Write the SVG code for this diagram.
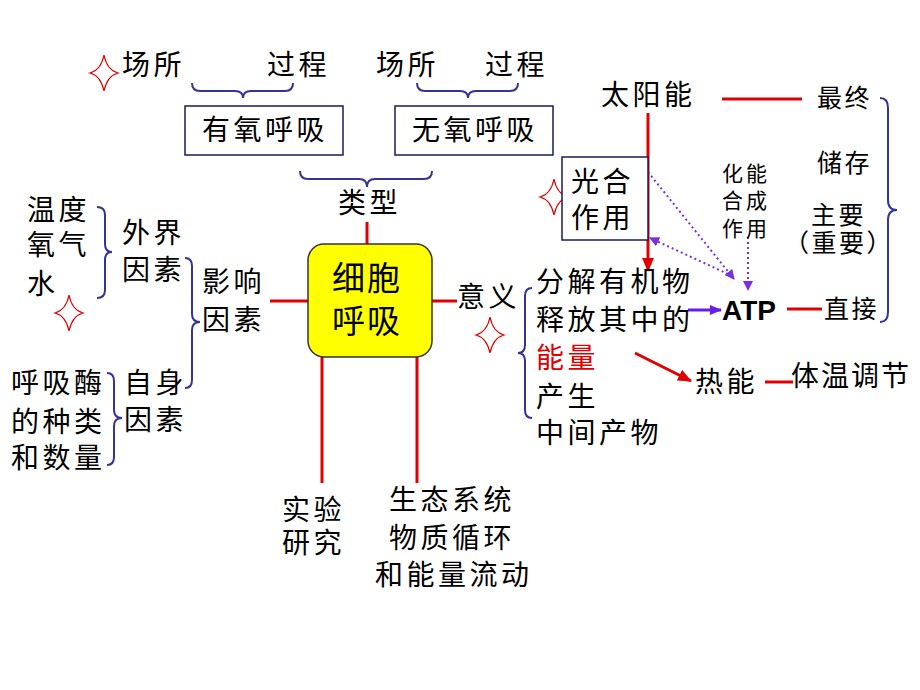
<svg xmlns="http://www.w3.org/2000/svg" width="920" height="690" viewBox="0 0 920 690">
<style>
  text { font-family: "Noto Sans CJK SC", "Noto Sans", sans-serif; fill: #000; }
  .t { font-size: 28px; letter-spacing: 3.5px; }
  .s { font-size: 25px; letter-spacing: 2.5px; }
  .xs { font-size: 21px; letter-spacing: 3px; }
  .big { font-size: 33px; letter-spacing: 2px; }
  .red { fill: #E00000; }
  .atp { font-family: "Liberation Sans", Arial, sans-serif; font-weight: bold; font-size: 28px; }
  .box { fill: #fff; stroke: #1a1a5e; stroke-width: 1.5; }
  .core { fill: #FFFF00; stroke: #333; stroke-width: 1.5; }
  .brace { fill: none; stroke: #333399; stroke-width: 2; }
  .rl { stroke: #E00000; stroke-width: 3; fill: none; }
  .pd { stroke: #7B2FE0; stroke-width: 2; stroke-dasharray: 2 3; fill: none; }
  .ps { stroke: #6A1BE6; stroke-width: 3; fill: none; }
  .star { fill: #fff; stroke: #E00000; stroke-width: 1.2; }
</style>
<defs>
  <path id="star" d="M0,-18 Q3,-3 14,0 Q3,3 0,18 Q-3,3 -14,0 Q-3,-3 0,-18Z"/>
  <marker id="ar" markerUnits="userSpaceOnUse" markerWidth="14" markerHeight="12" refX="13" refY="6" orient="auto">
    <path d="M0,0 L14,6 L0,12 z" fill="#E00000"/>
  </marker>
  <marker id="ap" markerUnits="userSpaceOnUse" markerWidth="12" markerHeight="10" refX="11" refY="5" orient="auto">
    <path d="M0,0 L12,5 L0,10 z" fill="#6A1BE6"/>
  </marker>
  <marker id="apd" markerUnits="userSpaceOnUse" markerWidth="10" markerHeight="10" refX="9" refY="5" orient="auto">
    <path d="M0,0 L10,5 L0,10 z" fill="#7B2FE0"/>
  </marker>
</defs>
<rect width="920" height="690" fill="#fff"/>

<g id="connectors">
  <line class="rl" x1="367" y1="222" x2="367" y2="244"/>
  <line class="rl" x1="270" y1="301" x2="308" y2="301"/>
  <line class="rl" x1="432" y1="301" x2="457" y2="301"/>
  <line class="rl" x1="322" y1="357" x2="322" y2="483"/>
  <line class="rl" x1="417" y1="357" x2="417" y2="483"/>
  <line class="rl" x1="722" y1="99" x2="802" y2="99"/>
  <line class="rl" x1="648" y1="113" x2="648" y2="271" marker-end="url(#ar)"/>
  <line class="rl" x1="635" y1="353" x2="691" y2="381" marker-end="url(#ar)"/>
  <line class="rl" x1="787" y1="309" x2="822" y2="309"/>
  <line class="rl" x1="765" y1="382" x2="793" y2="382"/>
  <line class="ps" x1="688" y1="310" x2="721" y2="310" marker-end="url(#ap)"/>
  <line class="pd" x1="648" y1="172" x2="734" y2="279" marker-end="url(#apd)"/>
  <line class="pd" x1="728" y1="274" x2="650" y2="238" marker-end="url(#apd)"/>
  <line class="pd" x1="748" y1="237" x2="748" y2="290" marker-end="url(#apd)"/>
</g>

<g id="braces">
  <path class="brace" d="M192,83 Q192,91 200,91 L235,91 Q243,91 243,98 Q243,91 251,91 L285,91 Q293,91 293,83"/>
  <path class="brace" d="M417,83 Q417,91 425,91 L460,91 Q468,91 468,98 Q468,91 476,91 L510,91 Q518,91 518,83"/>
  <path class="brace" d="M300,171 Q300,179 308,179 L359,179 Q367,179 367,187 Q367,179 375,179 L424,179 Q432,179 432,171"/>
  <path class="brace" d="M97,207 Q105,207 105,215 L105,244 Q105,252 112,252 Q105,252 105,260 L105,290 Q105,298 97,298"/>
  <path class="brace" d="M185,258 Q192,258 192,266 L192,314 Q192,322 200,322 Q192,322 192,330 L192,380 Q192,388 185,388"/>
  <path class="brace" d="M107,373 Q114,373 114,381 L114,410 Q114,418 122,418 Q114,418 114,426 L114,457 Q114,465 107,465"/>
  <path class="brace" d="M532,288 Q525,288 525,296 L525,345 Q525,353 518,353 Q525,353 525,361 L525,410 Q525,418 532,418"/>
  <path class="brace" d="M880,98 Q888,98 888,108 L888,200 Q888,210 897,210 Q888,210 888,220 L888,312 Q888,322 880,322"/>
</g>

<g id="stars">
  <use href="#star" class="star" x="104" y="73"/>
  <use href="#star" class="star" x="69" y="313"/>
  <use href="#star" class="star" x="554" y="197"/>
  <use href="#star" class="star" x="490" y="335"/>
</g>

<g id="n-site1"><text class="t" x="122" y="75">场所</text></g>
<g id="n-proc1"><text class="t" x="267" y="75">过程</text></g>
<g id="n-site2"><text class="t" x="376" y="75">场所</text></g>
<g id="n-proc2"><text class="t" x="485" y="75">过程</text></g>

<g id="n-aerobic">
  <rect class="box" x="185" y="106" width="158" height="49"/>
  <text class="t" x="202" y="140">有氧呼吸</text>
</g>
<g id="n-anaerobic">
  <rect class="box" x="395" y="106" width="158" height="49"/>
  <text class="t" x="412" y="140">无氧呼吸</text>
</g>
<g id="n-type"><text class="t" x="338" y="213">类型</text></g>

<g id="n-core">
  <rect class="core" x="308" y="244" width="124" height="113" rx="16" ry="16"/>
  <text class="big" x="332" y="290">细胞</text>
  <text class="big" x="332" y="333">呼吸</text>
</g>

<g id="n-ext-list">
  <text class="t" x="27" y="220">温度</text>
  <text class="t" x="27" y="255">氧气</text>
  <text class="t" x="27" y="294">水</text>
</g>
<g id="n-ext"><text class="t" x="122" y="243">外界</text><text class="t" x="122" y="280">因素</text></g>
<g id="n-influence"><text class="t" x="202" y="292">影响</text><text class="t" x="202" y="330">因素</text></g>
<g id="n-enzyme">
  <text class="t" x="11" y="393">呼吸酶</text>
  <text class="t" x="11" y="432">的种类</text>
  <text class="t" x="11" y="468">和数量</text>
</g>
<g id="n-self"><text class="t" x="124" y="393">自身</text><text class="t" x="124" y="430">因素</text></g>

<g id="n-exp"><text class="t" x="282" y="520">实验</text><text class="t" x="282" y="553">研究</text></g>
<g id="n-eco">
  <text class="t" x="389" y="510">生态系统</text>
  <text class="t" x="389" y="548">物质循环</text>
  <text class="t" x="375" y="585">和能量流动</text>
</g>

<g id="n-meaning"><text class="t" x="457" y="307">意义</text></g>
<g id="n-meaning-list">
  <text class="t" x="536" y="292">分解有机物</text>
  <text class="t" x="536" y="330">释放其中的</text>
  <text class="t red" x="536" y="368">能量</text>
  <text class="t" x="536" y="407">产生</text>
  <text class="t" x="536" y="443">中间产物</text>
</g>

<g id="n-sun"><text class="t" x="601" y="105">太阳能</text></g>
<g id="n-photo">
  <rect class="box" x="562" y="157" width="86" height="83"/>
  <text class="t" x="571" y="192">光合</text>
  <text class="t" x="571" y="228">作用</text>
</g>
<g id="n-chemo">
  <text class="xs" x="722" y="181">化能</text>
  <text class="xs" x="722" y="208">合成</text>
  <text class="xs" x="722" y="236">作用</text>
</g>
<g id="n-atp"><text class="atp" x="722" y="320">ATP</text></g>
<g id="n-heat"><text class="t" x="695" y="392">热能</text></g>
<g id="n-temp"><text class="t" x="791" y="386" style="letter-spacing:2px">体温调节</text></g>

<g id="n-store">
  <text class="s" x="817" y="107">最终</text>
  <text class="s" x="817" y="172">储存</text>
  <text class="s" x="811" y="224">主要</text>
  <text class="s" x="784" y="252">（重要）</text>
  <text class="s" x="824" y="318">直接</text>
</g>
</svg>
